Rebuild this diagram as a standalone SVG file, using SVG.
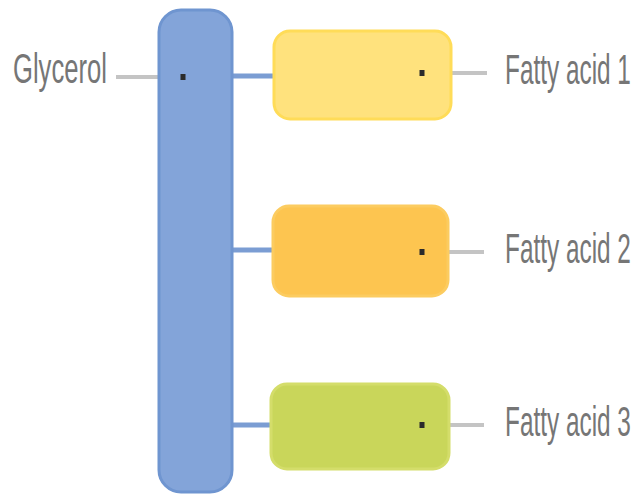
<svg xmlns="http://www.w3.org/2000/svg" width="644" height="496" viewBox="0 0 644 496">
  <style>
    .bond { stroke: #7b9dd3; stroke-width: 5; fill: none; }
    .leader { stroke: #c4c4c4; stroke-width: 4; fill: none; }
    .dot { fill: #2b2b2b; }
    .label { font-family: "Liberation Sans", Arial, sans-serif; font-size: 42px; fill: #767676; }
    .acid { stroke-width: 3; }
  </style>
  <rect width="644" height="496" fill="#ffffff"/>

  <!-- ester bonds between the glycerol backbone and each fatty acid -->
  <g id="connectors">
    <line class="bond" x1="230" y1="76" x2="275" y2="76"/>
    <line class="bond" x1="230" y1="250" x2="274" y2="250"/>
    <line class="bond" x1="230" y1="425" x2="272" y2="425"/>
    <line class="leader" x1="116" y1="77" x2="183" y2="77"/>
    <line class="leader" x1="422" y1="73" x2="487" y2="73"/>
    <line class="leader" x1="422" y1="252" x2="484" y2="252"/>
    <line class="leader" x1="422" y1="425" x2="484" y2="425"/>
  </g>

  <g id="glycerol">
    <rect x="159" y="10" width="73" height="482" rx="22" fill="#83a4d9" stroke="#6f95d0" stroke-width="3"/>
    <rect class="dot" x="180.5" y="74" width="5" height="6"/>
    <!-- condensed lettering via horizontal scale -->
    <text class="label" transform="translate(13 83) scale(0.61 1)">Glycerol</text>
  </g>

  <g id="fatty-acid-1">
    <rect class="acid" x="274" y="31" width="177" height="88" rx="16" fill="#ffe27d" stroke="#ffdc58"/>
    <rect class="dot" x="419.5" y="70" width="5" height="6"/>
    <text class="label" transform="translate(505 84) scale(0.58 1)">Fatty acid 1</text>
  </g>

  <g id="fatty-acid-2">
    <rect class="acid" x="273" y="206" width="175" height="90" rx="16" fill="#fdc550" stroke="#fccc60"/>
    <rect class="dot" x="419.5" y="249" width="5" height="6"/>
    <text class="label" transform="translate(505 263) scale(0.58 1)">Fatty acid 2</text>
  </g>

  <g id="fatty-acid-3">
    <rect class="acid" x="271" y="384" width="178" height="85" rx="16" fill="#c9d65a" stroke="#d4dd6a"/>
    <rect class="dot" x="419.5" y="422" width="5" height="6"/>
    <text class="label" transform="translate(505 436) scale(0.58 1)">Fatty acid 3</text>
  </g>
</svg>
